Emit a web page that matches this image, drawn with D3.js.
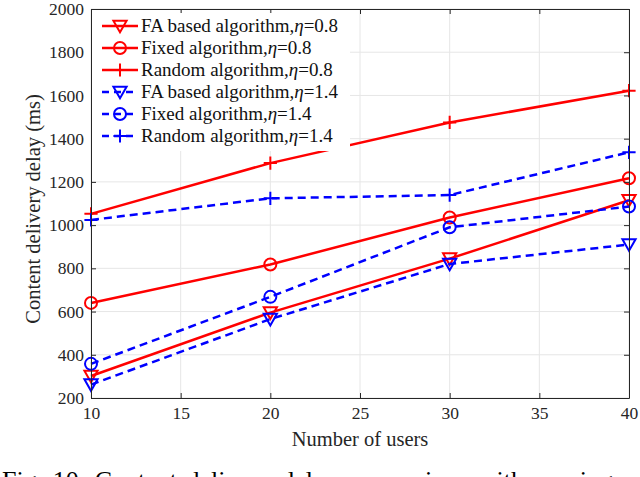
<!DOCTYPE html>
<html>
<head>
<meta charset="utf-8">
<script src="https://cdn.jsdelivr.net/npm/d3@7/dist/d3.min.js"></script>
<style>
  body { margin: 0; background: #fff; }
  svg { display: block; font-family: "Liberation Serif", "Times New Roman", serif; }
</style>
</head>
<body>
<svg id="chart" width="640" height="477"></svg>
<script>
// data
const users = [10, 20, 30, 40];
const faLow = [302, 595, 845, 1115];
const fixedLow = [640, 818, 1035, 1217];
const randomLow = [1052, 1287, 1475, 1622];
const faHigh = [262, 565, 820, 910];
const fixedHigh = [358, 668, 990, 1086];
const randomHigh = [1024, 1124, 1139, 1337];

const xTicks = [10, 15, 20, 25, 30, 35, 40];
const yTicks = [200, 400, 600, 800, 1000, 1200, 1400, 1600, 1800, 2000];

const series = [
  { name: "FA based algorithm,", eta: "0.8", values: faLow, color: "#ff0000", dash: null, marker: "tri" },
  { name: "Fixed algorithm,", eta: "0.8", values: fixedLow, color: "#ff0000", dash: null, marker: "circle" },
  { name: "Random algorithm,", eta: "0.8", values: randomLow, color: "#ff0000", dash: null, marker: "plus" },
  { name: "FA based algorithm,", eta: "1.4", values: faHigh, color: "#0000ff", dash: "8,5", marker: "tri" },
  { name: "Fixed algorithm,", eta: "1.4", values: fixedHigh, color: "#0000ff", dash: "8,5", marker: "circle" },
  { name: "Random algorithm,", eta: "1.4", values: randomHigh, color: "#0000ff", dash: "8,5", marker: "plus" }
];

const svg = d3.select('#chart');
const margin = { left: 91, right: 11, top: 9, bottom: 79 };
const W = 640, H = 477;

const x = d3.scaleLinear().domain([10, 40]).range([margin.left, W - margin.right]);
const y = d3.scaleLinear().domain([200, 2000]).range([H - margin.bottom, margin.top]);

const axisColor = "#262626";

// grid
const grid = svg.append('g');
grid.selectAll('.vg').data(xTicks).enter().append('line')
  .attr('x1', d => x(d)).attr('x2', d => x(d))
  .attr('y1', y(200)).attr('y2', y(2000))
  .attr('stroke', '#e6e6e6').attr('stroke-width', 1);
grid.selectAll('.hg').data(yTicks).enter().append('line')
  .attr('x1', x(10)).attr('x2', x(40))
  .attr('y1', d => y(d)).attr('y2', d => y(d))
  .attr('stroke', '#e6e6e6').attr('stroke-width', 1);

function drawMarker(g, type, color, size) {
  if (type === "circle") {
    g.append('circle').attr('r', size * 0.5).attr('fill', 'none')
      .attr('stroke', color).attr('stroke-width', 2);
  } else if (type === "tri") {
    const s = size * 0.55;
    g.append('path').attr('d', `M${-s},${-s * 0.8}L${s},${-s * 0.8}L0,${s * 0.95}Z`)
      .attr('fill', 'none').attr('stroke', color).attr('stroke-width', 2)
      .attr('stroke-linejoin', 'miter');
  } else {
    const s = size * 0.55;
    g.append('path').attr('d', `M${-s},0H${s}M0,${-s}V${s}`)
      .attr('stroke', color).attr('stroke-width', 2);
  }
}

const line = d3.line().x((d, i) => x(users[i])).y(d => y(d));

const plot = svg.append('g');
series.forEach(s => {
  plot.append('path')
    .datum(s.values)
    .attr('d', line)
    .attr('fill', 'none')
    .attr('stroke', s.color)
    .attr('stroke-width', 2.5)
    .attr('stroke-dasharray', s.dash);
  s.values.forEach((v, i) => {
    const m = plot.append('g').attr('transform', `translate(${x(users[i])},${y(v)})`);
    drawMarker(m, s.marker, s.color, 12);
  });
});

// axes (box with inward ticks)
const xAxis = d3.axisBottom(x).tickValues(xTicks).tickSizeInner(-5).tickSizeOuter(0).tickPadding(9).tickFormat(d3.format('d'));
const yAxis = d3.axisLeft(y).tickValues(yTicks).tickSizeInner(-5).tickSizeOuter(0).tickPadding(7).tickFormat(d3.format('d'));
const xTop = d3.axisTop(x).tickValues(xTicks).tickSizeInner(-5).tickSizeOuter(0).tickFormat('');
const yRight = d3.axisRight(y).tickValues(yTicks).tickSizeInner(-5).tickSizeOuter(0).tickFormat('');

function styleAxis(g) {
  g.select('.domain').attr('stroke', axisColor).attr('stroke-width', 1);
  g.selectAll('.tick line').attr('stroke', axisColor);
  g.selectAll('.tick text').attr('fill', axisColor)
    .style('font-family', '"Liberation Serif", serif').style('font-size', '17.5px');
}

svg.append('g').attr('transform', `translate(0,${y(200)})`).call(xAxis).call(styleAxis);
svg.append('g').attr('transform', `translate(${x(10)},0)`).call(yAxis).call(styleAxis);
svg.append('g').attr('transform', `translate(0,${y(2000)})`).call(xTop).call(styleAxis);
svg.append('g').attr('transform', `translate(${x(40)},0)`).call(yRight).call(styleAxis);

// legend
const legend = svg.append('g');
legend.append('rect')
  .attr('x', x(10) + 1).attr('y', 13)
  .attr('width', 258).attr('height', 138)
  .attr('fill', '#fff');

const rowH = 22;
series.forEach((s, i) => {
  const cy = 26 + i * rowH;
  const row = legend.append('g');
  row.append('line')
    .attr('x1', 102).attr('x2', 138).attr('y1', cy).attr('y2', cy)
    .attr('stroke', s.color).attr('stroke-width', 2.5)
    .attr('stroke-dasharray', s.dash ? "7,5" : null);
  const m = row.append('g').attr('transform', `translate(120,${cy})`);
  drawMarker(m, s.marker, s.color, 12);
  const t = row.append('text')
    .attr('x', 141).attr('y', cy + 6)
    .style('font-size', '19px').attr('fill', '#111');
  t.append('tspan').text(s.name);
  t.append('tspan').style('font-style', 'italic').text('η');
  t.append('tspan').text('=' + s.eta);
});

// axis labels
svg.append('text')
  .attr('x', x(25)).attr('y', 446)
  .attr('text-anchor', 'middle')
  .style('font-size', '20.5px').attr('fill', axisColor)
  .text('Number of users');

svg.append('text')
  .attr('transform', `translate(40,209) rotate(-90)`)
  .attr('text-anchor', 'middle')
  .style('font-size', '20.5px').attr('fill', axisColor)
  .text('Content delivery delay (ms)');

// caption, cut by the bottom edge as in the source
svg.append('text')
  .attr('x', 2).attr('y', 489)
  .style('font-size', '26px').style('word-spacing', '3px').attr('fill', '#000')
  .text('Fig. 10. Content delivery delay comparison with varying');
</script>
</body>
</html>
